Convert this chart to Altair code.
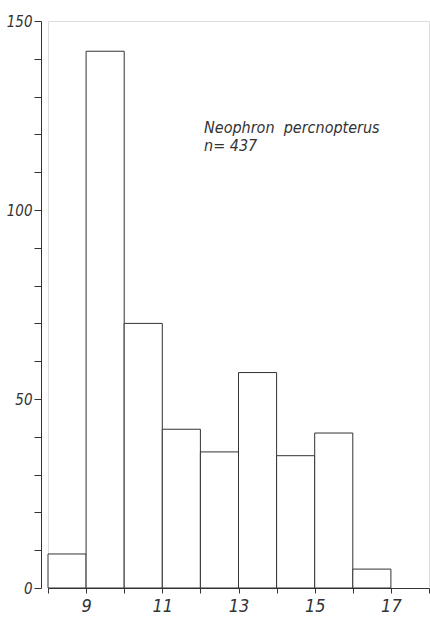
import altair as alt
import pandas as pd

bin_start = [8, 9, 10, 11, 12, 13, 14, 15, 16]
bin_end = [9, 10, 11, 12, 13, 14, 15, 16, 17]
counts = [9, 142, 70, 42, 36, 57, 35, 41, 5]

x_ticks = list(range(8, 19))
y_ticks = list(range(0, 151, 10))

title_lines = ["Neophron\u00a0\u00a0percnopterus", "n= 437"]

df = pd.DataFrame({"start": bin_start, "end": bin_end, "count": counts})

FONT = "Liberation Sans Narrow, DejaVu Sans Condensed, Liberation Sans"
INK = "#333333"

bars = alt.Chart(df).mark_rect(
    fill="white", stroke=INK, strokeWidth=1
).encode(
    x=alt.X("start:Q", scale=alt.Scale(domain=[8, 18], nice=False, zero=False),
            axis=alt.Axis(values=x_ticks, title=None, grid=False,
                          labelExpr="datum.value % 2 == 1 ? datum.label : ''",
                          tickSize=5, labelPadding=4, labelFontSize=18,
                          labelFont=FONT, labelFontStyle="italic",
                          labelFontWeight="normal",
                          labelColor=INK, domainColor=INK, tickColor=INK,
                          labelFlush=False)),
    x2="end:Q",
    y=alt.Y("count:Q", scale=alt.Scale(domain=[0, 150], nice=False),
            axis=alt.Axis(values=y_ticks, title=None, grid=False, offset=7,
                          labelExpr="datum.value % 50 == 0 ? datum.label : ''",
                          tickSize=7, labelPadding=2, labelFontSize=15,
                          labelFont=FONT, labelFontStyle="italic",
                          labelFontWeight="normal",
                          labelColor=INK, domainColor=INK, tickColor=INK,
                          labelFlush=False)),
    y2=alt.datum(0),
)

ann = alt.Chart(pd.DataFrame({"t": [title_lines]})).mark_text(
    align="left", baseline="alphabetic", font=FONT, fontStyle="italic",
    fontSize=16, lineHeight=18, color=INK
).encode(
    x=alt.value(156), y=alt.value(112), text="t:N"
)

chart = alt.layer(bars, ann).properties(
    width=381, height=567,
    autosize=alt.AutoSizeParams(type="none"),
    padding={"left": 48, "top": 21, "right": 1, "bottom": 29},
).configure_view(stroke=None).configure(background="white")

chart.save("out.html", embed_options={"renderer": "svg", "actions": False})
